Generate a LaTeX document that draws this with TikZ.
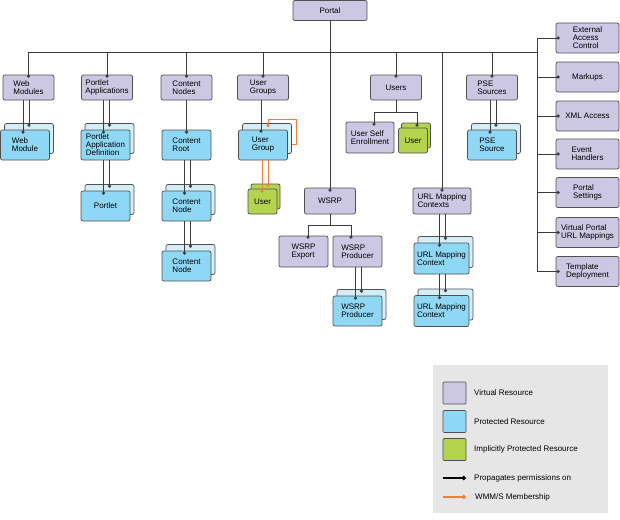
\documentclass[tikz,border=0pt]{standalone}
\usepackage{fontspec}
\setmainfont{Liberation Sans}
\usetikzlibrary{arrows.meta}
\definecolor{virt}{HTML}{CCC8E4}
\definecolor{prot}{HTML}{8FD8F5}
\definecolor{protbk}{HTML}{D3EEF7}
\definecolor{impl}{HTML}{B5D44D}
\definecolor{edge}{HTML}{505050}
\definecolor{wire}{HTML}{3C3C3C}
\definecolor{orng}{HTML}{F07F3C}
\definecolor{legbg}{HTML}{E6E6E6}
\begin{document}
\begin{tikzpicture}[x=1pt,y=-1pt,
  box/.style={draw=edge,line width=0.7pt,rounded corners=2pt,align=left,inner sep=1pt,
    font=\fontsize{8}{8}\selectfont},
  vres/.style={box,fill=virt,minimum width=51pt,minimum height=25pt},
  side/.style={box,fill=virt,minimum width=63pt,minimum height=30pt},
  pres/.style={box,fill=prot,minimum width=49pt,minimum height=30pt},
  pback/.style={pres,fill=protbk},
  ires/.style={box,fill=impl,minimum width=29pt,minimum height=25pt},
  link/.style={draw=wire,line width=0.8pt},
  prop/.style={link,-{Circle[length=3pt]}},
  memb/.style={draw=orng,line width=0.8pt,-{Circle[length=3pt]}},
  legtext/.style={anchor=west,inner sep=1pt,font=\fontsize{8}{8}\selectfont}]

	\useasboundingbox (0,0) rectangle (620,519);

	% top and first row
	\node[vres,minimum width=74pt,minimum height=20pt] (portal) at (330,10.5) {Portal};
	\node[vres] (webmods) at (28.5,87.5) {Web\\Modules};
	\node[vres] (portletapps) at (107,87.5) {Portlet\\Applications};
	\node[vres] (contentnodes) at (186.5,87.5) {Content\\Nodes};
	\node[vres] (usergroups) at (263,87.5) {User\\Groups};
	\node[vres] (users) at (396,87.5) {Users};
	\node[vres] (psesrcs) at (492,87.5) {PSE\\Sources};

	% right column
	\node[side] (extac) at (587.5,38) {External\\Access\\Control};
	\node[side] (markups) at (587.5,77) {Markups};
	\node[side] (xmlacc) at (587.5,116) {XML Access};
	\node[side] (evh) at (587.5,154) {Event\\Handlers};
	\node[side] (psettings) at (587.5,192.5) {Portal\\Settings};
	\node[side] (vpurl) at (587.5,232.5) {Virtual Portal\\URL Mappings};
	\node[side] (tmpl) at (587.5,271.5) {Template\\Deployment};

	% protected resources (back copy first)
	\node[pback] (bwebmod) at (29,138.5) {};
	\node[pres] (webmod) at (25,145) {Web\\Module};
	\node[pback] (bpad) at (109.5,138.5) {};
	\node[pres] (pad) at (105.5,145) {Portlet\\Application\\Definition};
	\node[pback] (bportlet) at (109.5,199.5) {};
	\node[pres] (portlet) at (105.5,206) {Portlet};
	\node[pres] (contentroot) at (186.5,145) {Content\\Root};
	\node[pback] (bcnode1) at (190.5,199.5) {};
	\node[pres] (cnode1) at (186.5,206) {Content\\Node};
	\node[pback] (bcnode2) at (190.5,259.5) {};
	\node[pres] (cnode2) at (186.5,266) {Content\\Node};
	\node[pback] (busergroup) at (267,138.5) {};
	\node[pres] (usergroup) at (263,145) {User\\Group};
	\node[pback] (bpse) at (496,138.5) {};
	\node[pres] (pse) at (492,145) {PSE\\Source};
	\node[pback] (bwsrpprod) at (361.5,304.5) {};
	\node[pres] (wsrpprod) at (357.5,311) {WSRP\\Producer};
	\node[pback,minimum width=55pt,minimum height=31pt] (burlctx1) at (445.5,252) {};
	\node[pres,minimum width=55pt,minimum height=31pt] (urlctx1) at (441.5,258.5) {URL Mapping\\Context};
	\node[pback,minimum width=55pt,minimum height=31pt] (burlctx2) at (445.5,304.5) {};
	\node[pres,minimum width=55pt,minimum height=31pt] (urlctx2) at (441.5,311) {URL Mapping\\Context};

	% implicitly protected
	\node[ires] (bugusr) at (265.5,196.5) {};
	\node[ires] (ugusr) at (262.5,201.5) {User};
	\node[ires] (busr) at (416,135.5) {};
	\node[ires] (usr) at (413,140.5) {User};

	% other virtual resources
	\node[vres,minimum width=48pt,minimum height=31pt] (selfenroll) at (370,137.5) {User Self\\Enrollment};
	\node[vres,minimum height=26pt] (wsrp) at (330,201) {WSRP};
	\node[vres,minimum width=49pt,minimum height=31pt] (wsrpexp) at (303.5,251.5) {WSRP\\Export};
	\node[vres,minimum width=49pt,minimum height=31pt] (wsrpprodv) at (357.5,251.5) {WSRP\\Producer};
	\node[vres,minimum width=58pt,minimum height=26pt] (urlctxs) at (442,201) {URL Mapping\\Contexts};

	% bus and rail
	\coordinate (busL) at (28.5,52);
	\coordinate (busR) at (537,52);
	\draw[link] (busL) -- (busR);
	\draw[link] (extac.west -| busR) -- (tmpl.west -| busR);
	\draw[prop] (portal.south) -- ([yshift=-4pt]wsrp.north);
	\draw[prop] (urlctxs.north |- busR) -- ([yshift=-4pt]urlctxs.north);
	\foreach \n in {webmods,portletapps,contentnodes,usergroups,users,psesrcs}
		\draw[prop] (\n.north |- busL) -- ([yshift=-3pt]\n.north);
	\foreach \n in {extac,markups,xmlacc,evh,psettings,vpurl,tmpl}
		\draw[prop] (\n.west -| busR) -- ([xshift=4pt]\n.west);

	% parent to stacked children
	\foreach \p/\f in {webmods/webmod,portletapps/pad,pad/portlet,contentroot/cnode1,
		cnode1/cnode2,psesrcs/pse,wsrpprodv/wsrpprod,urlctxs/urlctx1,urlctx1/urlctx2} {
		\coordinate (fd) at ([xshift=-2pt,yshift=-4pt]\f.north);
		\coordinate (bd) at ([yshift=-3.5pt]b\f.north);
		\draw[prop] (\p.south -| fd) -- (fd);
		\draw[prop] (\p.south -| bd) -- (bd);
	}
	\draw[prop] (contentnodes.south) -- ([yshift=-4pt]contentroot.north);
	\coordinate (ugd) at ([xshift=-2pt,yshift=-3pt]usergroup.north);
	\draw[prop] (usergroups.south -| ugd) -- (ugd);

	% users tree
	\coordinate (uj) at ([yshift=-12pt]users.south);
	\coordinate (sed) at ([xshift=4pt,yshift=-4pt]selfenroll.north);
	\coordinate (usd) at ([xshift=1pt,yshift=-4pt]busr.north);
	\draw[link] (users.south) -- (uj);
	\draw[prop] (uj) -| (sed);
	\draw[prop] (uj) -| (usd);

	% wsrp tree
	\coordinate (wj) at ([yshift=-11pt]wsrp.south);
	\coordinate (wed) at ([xshift=4.5pt,yshift=-3pt]wsrpexp.north);
	\coordinate (wpd) at ([xshift=-6.5pt,yshift=-3pt]wsrpprodv.north);
	\draw[link] (wsrp.south) -- (wj);
	\draw[prop] (wj) -| (wed);
	\draw[prop] (wj) -| (wpd);

	% membership
	\coordinate (ugl) at ([xshift=1pt,yshift=-4pt]busergroup.north);
	\draw[memb] ([yshift=-5.5pt]busergroup.east) -| ([xshift=5pt,yshift=4pt]busergroup.north east) -| (ugl);
	\coordinate (uf) at ([xshift=-0.5pt,yshift=-4pt]ugusr.north);
	\coordinate (ub) at ([xshift=2.5pt,yshift=-3pt]bugusr.north);
	\draw[memb] (usergroup.south -| uf) -- (uf);
	\draw[memb] (usergroup.south -| ub) -- (ub);

	% legend
	\node[fill=legbg,minimum width=175pt,minimum height=148pt,inner sep=0pt] (legend) at (520.5,439) {};
	\node[box,rounded corners=1pt,fill=virt,minimum width=23pt,minimum height=22pt] (lv) at (454.5,393) {};
	\node[box,rounded corners=1pt,fill=prot,minimum width=23pt,minimum height=22pt] (lp) at (454.5,421.5) {};
	\node[box,rounded corners=1pt,fill=impl,minimum width=23pt,minimum height=22pt] (li) at (454.5,449.5) {};
	\node[legtext] (lvt) at (473,393) {Virtual Resource};
	\node[legtext] (lpt) at (473,421.5) {Protected Resource};
	\node[legtext] (lit) at (473,449.5) {Implicitly Protected Resource};
	\coordinate (lpa) at (443,478);
	\coordinate (lpb) at (466,478);
	\coordinate (lma) at (443,497);
	\coordinate (lmb) at (466,497);
	\draw[link,draw=black,line width=1.1pt,-{Circle[length=4.5pt]}] (lpa) -- (lpb);
	\draw[memb,line width=1.1pt,-{Circle[length=4.5pt]}] (lma) -- (lmb);
	\node[legtext] (lpro) at (473,478) {Propagates permissions on};
	\node[legtext] (lmem) at (474,497) {WMM/S Membership};

\end{tikzpicture}
\end{document}
